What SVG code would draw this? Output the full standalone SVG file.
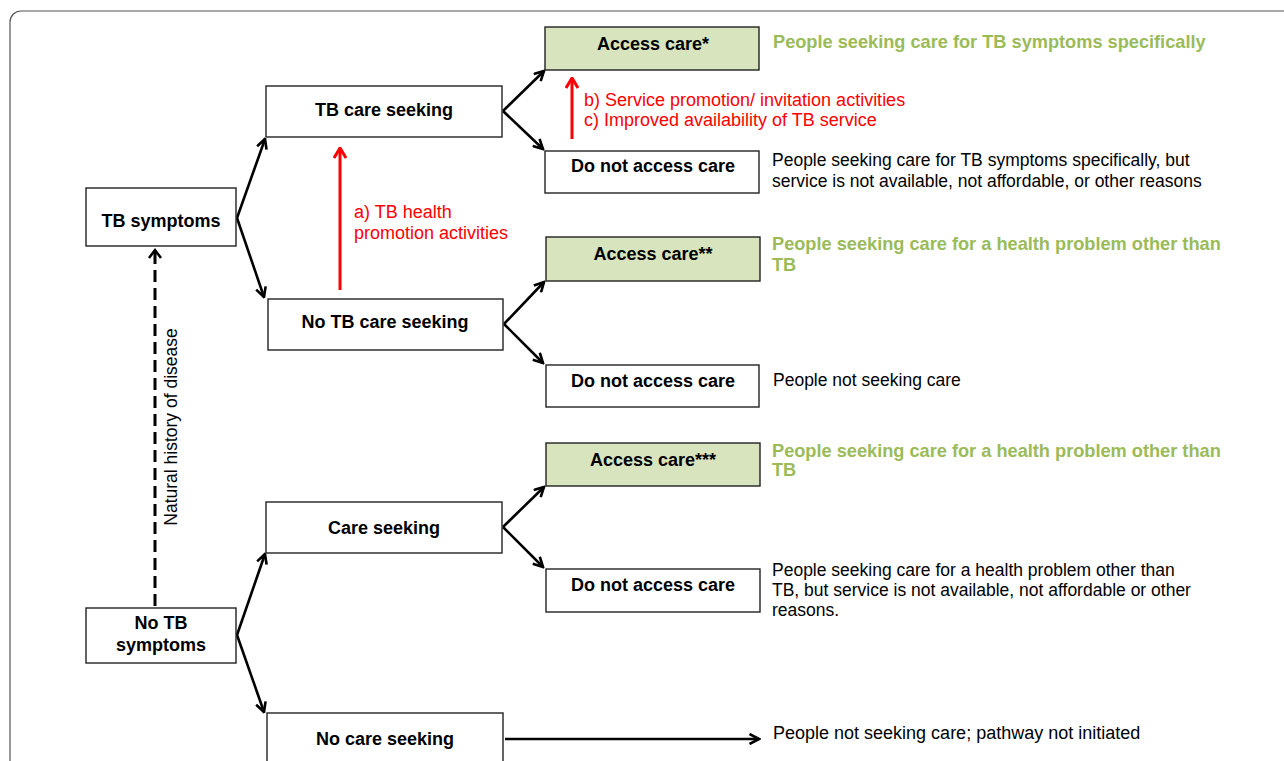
<svg xmlns="http://www.w3.org/2000/svg" width="1284" height="761" viewBox="0 0 1284 761">
<defs>
<style>
.box{fill:#fff;stroke:#222;stroke-width:1.4}
.gbox{fill:#d7e4bd;stroke:#222;stroke-width:1.4}
.lbl{font-family:"Liberation Sans",Arial,sans-serif;font-size:18px;font-weight:bold;fill:#000;text-anchor:middle}
.desc{font-family:"Liberation Sans",Arial,sans-serif;font-size:17.5px;fill:#000}
.gdesc{font-family:"Liberation Sans",Arial,sans-serif;font-size:18.2px;font-weight:bold;fill:#9bbb59}
.red{font-family:"Liberation Sans",Arial,sans-serif;font-size:18px;fill:#ff0000}
.con{stroke:#000;stroke-width:2.6;fill:none;marker-end:url(#ah)}
.rcon{stroke:#ff0000;stroke-width:3;fill:none;marker-end:url(#rah)}
</style>
<marker id="ah" viewBox="0 0 12 12" refX="10.5" refY="6" markerWidth="12" markerHeight="12" markerUnits="userSpaceOnUse" orient="auto">
<path d="M1,1 L10.5,6 L1,11" fill="none" stroke="#000" stroke-width="2.6"/>
</marker>
<marker id="rah" viewBox="0 0 12 14" refX="11" refY="7" markerWidth="12" markerHeight="14" markerUnits="userSpaceOnUse" orient="auto">
<path d="M1,1 L11,7 L1,13" fill="none" stroke="#ff0000" stroke-width="3"/>
</marker>
</defs>
<rect x="0" y="0" width="1284" height="761" fill="#fff"/>
<rect x="10" y="11" width="1300" height="800" rx="11" ry="11" fill="none" stroke="#555" stroke-width="1.2"/>

<g id="connectors">
<path class="con" d="M237,218 L265,139"/>
<path class="con" d="M237,218 L264,297"/>
<path class="con" d="M503,111 L544,71"/>
<path class="con" d="M503,111 L543,149"/>
<path class="con" d="M504,324 L544,282"/>
<path class="con" d="M504,324 L543,363"/>
<path class="con" d="M503,527 L544,487"/>
<path class="con" d="M503,527 L543,567"/>
<path class="con" d="M237,635 L265,554"/>
<path class="con" d="M237,635 L264,712"/>
<path class="con" d="M505,739 L759,739"/>
<path d="M155,606 L155,252" stroke="#000" stroke-width="3" stroke-dasharray="12,6" fill="none"/>
<path d="M149,258 L155,250 L161,258" stroke="#000" stroke-width="2.5" fill="none"/>
<path class="rcon" d="M340,290 L340,148"/>
<path class="rcon" d="M572,139 L572,78"/>
</g>

<g id="n-tb-symptoms"><rect class="box" x="86" y="188" width="150" height="58"/><text class="lbl" x="161" y="227">TB symptoms</text></g>
<g id="n-no-tb-symptoms"><rect class="box" x="86" y="608" width="150" height="55"/><text class="lbl" x="161" y="629">No TB</text><text class="lbl" x="161" y="651">symptoms</text></g>
<g id="n-tb-care-seeking"><rect class="box" x="266" y="86" width="236" height="51"/><text class="lbl" x="384" y="116">TB care seeking</text></g>
<g id="n-no-tb-care-seeking"><rect class="box" x="268" y="299" width="235" height="51"/><text class="lbl" x="385" y="328">No TB care seeking</text></g>
<g id="n-care-seeking"><rect class="box" x="266" y="502" width="236" height="51"/><text class="lbl" x="384" y="534">Care seeking</text></g>
<g id="n-no-care-seeking"><rect class="box" x="267" y="713" width="236" height="60"/><text class="lbl" x="385" y="745">No care seeking</text></g>
<g id="n-access1"><rect class="gbox" x="545" y="27" width="214" height="43"/><text class="lbl" x="653" y="50">Access care*</text></g>
<g id="n-noaccess1"><rect class="box" x="545" y="151" width="214" height="42"/><text class="lbl" x="653" y="172">Do not access care</text></g>
<g id="n-access2"><rect class="gbox" x="546" y="237" width="214" height="44"/><text class="lbl" x="653" y="260">Access care**</text></g>
<g id="n-noaccess2"><rect class="box" x="546" y="365" width="213" height="42"/><text class="lbl" x="653" y="387">Do not access care</text></g>
<g id="n-access3"><rect class="gbox" x="546" y="443" width="214" height="43"/><text class="lbl" x="653" y="466">Access care***</text></g>
<g id="n-noaccess3"><rect class="box" x="546" y="569" width="214" height="43"/><text class="lbl" x="653" y="591">Do not access care</text></g>

<g id="labels">
<text class="red" x="354" y="218">a) TB health</text>
<text class="red" x="354" y="239">promotion activities</text>
<text class="red" x="584" y="106">b) Service promotion/ invitation activities</text>
<text class="red" x="584" y="125.5">c) Improved availability of TB service</text>
<text class="gdesc" x="773" y="48">People seeking care for TB symptoms specifically</text>
<text class="desc" x="772" y="166">People seeking care for TB symptoms specifically, but</text>
<text class="desc" x="772" y="186.5">service is not available, not affordable, or other reasons</text>
<text class="gdesc" x="772" y="250">People seeking care for a health problem other than</text>
<text class="gdesc" x="772" y="270.5">TB</text>
<text class="desc" x="773" y="386">People not seeking care</text>
<text class="gdesc" x="772" y="456.5">People seeking care for a health problem other than</text>
<text class="gdesc" x="772" y="475.5">TB</text>
<text class="desc" x="772" y="576">People seeking care for a health problem other than</text>
<text class="desc" x="772" y="596">TB, but service is not available, not affordable or other</text>
<text class="desc" x="772" y="615.5">reasons.</text>
<text class="desc" x="773" y="739" style="font-size:18px">People not seeking care; pathway not initiated</text>
<text class="desc" x="177" y="427" transform="rotate(-90 177 427)" text-anchor="middle">Natural history of disease</text>
</g>
</svg>
